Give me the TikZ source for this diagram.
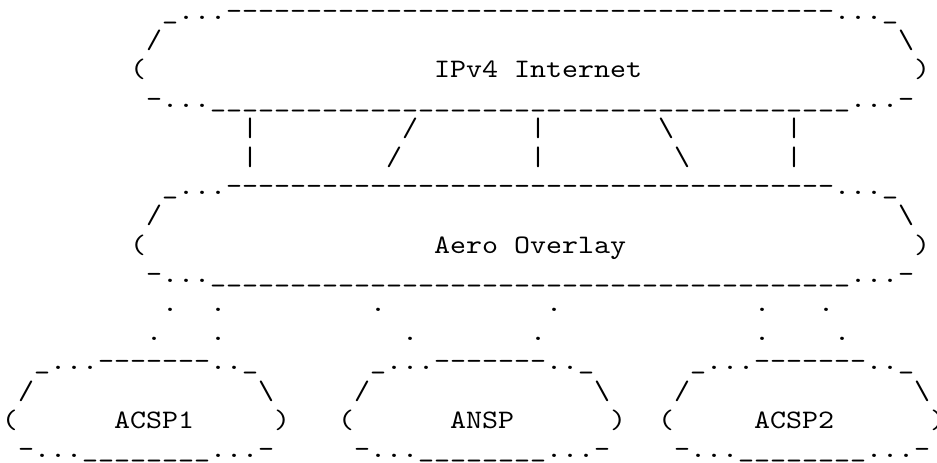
\documentclass[tikz,border=0pt]{standalone}
\usepackage{fontspec}
\setmonofont{lmmono10-regular.otf}[FakeStretch=1.142857]
\ExplSyntaxOn
\NewDocumentCommand\rep{mm}{\prg_replicate:nn{#1}{#2}}
\ExplSyntaxOff
\newcommand\asfont{\ttfamily\fontsize{20}{24}\selectfont}
\tikzset{asc/.style={anchor=base west,inner sep=0pt,outer sep=0pt,font=\asfont,text=black}}
% #1 name, #2 column, #3 row
\newcommand\cell[4]{\node[asc] (#1) at ({2+16*(#2)},{19.5+29.2*(#3-1)}) {#4};}
\begin{document}
\begin{tikzpicture}[x=0.75pt,y=-0.75pt]
\useasboundingbox[fill=white] (0,0) rectangle (937,462);
% IPv4 Internet cloud
\cell{inetT}{10}{1}{\_...\rep{38}{-}...\_}
\cell{inetL}{9}{2}{/}
\cell{inetR}{56}{2}{\textbackslash}
\cell{inetPL}{8}{3}{(}
\cell{inetA}{27}{3}{IPv4}
\cell{inetB}{32}{3}{Internet}
\cell{inetPR}{57}{3}{)}
\cell{inetBot}{9}{4}{-...\rep{40}{\_}...-}
% links
\cell{la}{15}{5}{\textbar}
\cell{lb}{25}{5}{/}
\cell{lc}{33}{5}{\textbar}
\cell{ld}{41}{5}{\textbackslash}
\cell{le}{49}{5}{\textbar}
\cell{ma}{15}{6}{\textbar}
\cell{mb}{24}{6}{/}
\cell{mc}{33}{6}{\textbar}
\cell{md}{42}{6}{\textbackslash}
\cell{me}{49}{6}{\textbar}
% Aero Overlay cloud
\cell{aeroT}{10}{7}{\_...\rep{38}{-}...\_}
\cell{aeroL}{9}{8}{/}
\cell{aeroR}{56}{8}{\textbackslash}
\cell{aeroPL}{8}{9}{(}
\cell{aeroA}{27}{9}{Aero}
\cell{aeroB}{32}{9}{Overlay}
\cell{aeroPR}{57}{9}{)}
\cell{aeroBot}{9}{10}{-...\rep{40}{\_}...-}
% dotted links
\cell{d1}{10}{11}{.}
\cell{d2}{13}{11}{.}
\cell{d3}{23}{11}{.}
\cell{d4}{34}{11}{.}
\cell{d5}{47}{11}{.}
\cell{d6}{51}{11}{.}
\cell{e1}{9}{12}{.}
\cell{e2}{13}{12}{.}
\cell{e3}{25}{12}{.}
\cell{e4}{33}{12}{.}
\cell{e5}{47}{12}{.}
\cell{e6}{52}{12}{.}
% ACSP1
\cell{c1T}{2}{13}{\_...\rep{7}{-}..\_}
\cell{c1L}{1}{14}{/}
\cell{c1R}{16}{14}{\textbackslash}
\cell{c1PL}{0}{15}{(}
\cell{c1N}{7}{15}{ACSP1}
\cell{c1PR}{17}{15}{)}
\cell{c1B}{1}{16}{-...\rep{8}{\_}...-}
% ANSP
\cell{nT}{23}{13}{\_...\rep{7}{-}..\_}
\cell{nL}{22}{14}{/}
\cell{nR}{37}{14}{\textbackslash}
\cell{nPL}{21}{15}{(}
\cell{nN}{28}{15}{ANSP}
\cell{nPR}{38}{15}{)}
\cell{nB}{22}{16}{-...\rep{8}{\_}...-}
% ACSP2
\cell{c2T}{43}{13}{\_...\rep{7}{-}..\_}
\cell{c2L}{42}{14}{/}
\cell{c2R}{57}{14}{\textbackslash}
\cell{c2PL}{41}{15}{(}
\cell{c2N}{47}{15}{ACSP2}
\cell{c2PR}{58}{15}{)}
\cell{c2B}{42}{16}{-...\rep{8}{\_}...-}
\end{tikzpicture}
\end{document}
